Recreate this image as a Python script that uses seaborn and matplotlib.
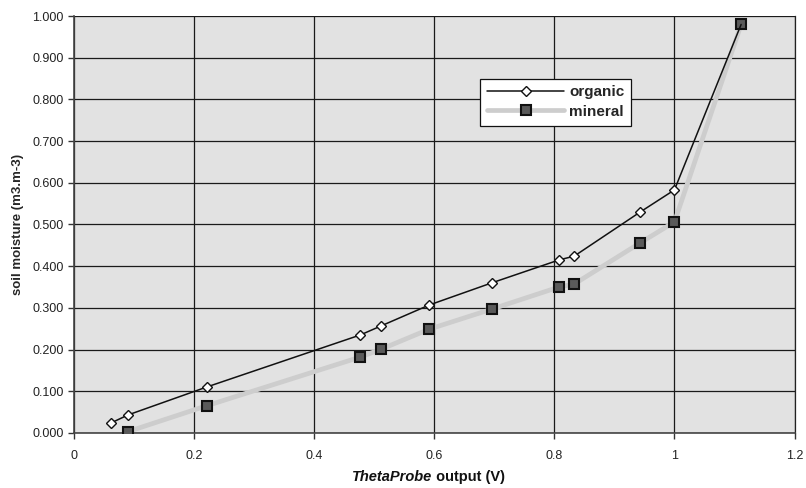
import numpy as np
import pandas as pd
import seaborn as sns
import matplotlib
matplotlib.use("Agg")
import matplotlib.pyplot as plt

# data
organic_x = [0.062, 0.090, 0.221, 0.477, 0.512, 0.592, 0.696, 0.808, 0.833, 0.943, 1.000, 1.111]
organic_y = [0.024, 0.043, 0.110, 0.235, 0.257, 0.307, 0.360, 0.415, 0.424, 0.530, 0.583, 0.980]

mineral_x = [0.090, 0.221, 0.477, 0.512, 0.592, 0.696, 0.808, 0.833, 0.943, 1.000, 1.111]
mineral_y = [0.003, 0.065, 0.182, 0.201, 0.249, 0.297, 0.350, 0.357, 0.456, 0.506, 0.980]

x_ticks = [0, 0.2, 0.4, 0.6, 0.8, 1.0, 1.2]
x_tick_labels = ["0", "0.2", "0.4", "0.6", "0.8", "1", "1.2"]
y_ticks = np.round(np.arange(0, 1.01, 0.1), 1)

sns.set_style("whitegrid")
plt.rcParams["font.family"] = ["Liberation Sans", "DejaVu Sans"]

fig = plt.figure(figsize=(8.06, 4.88), dpi=100)
ax = fig.add_axes([0.0918, 0.113, 0.894, 0.854])
ax.set_facecolor("#e2e2e2")

org_df = pd.DataFrame({"x": organic_x, "y": organic_y})
min_df = pd.DataFrame({"x": mineral_x, "y": mineral_y})

# last organic point sits under the mineral square, so no marker there
sns.lineplot(data=org_df, x="x", y="y", sort=False, ax=ax, color="#111111",
             linewidth=1.1, marker="D", markersize=5, markerfacecolor="white",
             markeredgecolor="#111111", markeredgewidth=1.0, label="organic", zorder=4,
             markevery=list(range(len(organic_x) - 1)))
sns.lineplot(data=min_df, x="x", y="y", sort=False, ax=ax, color="#cdcdcd",
             linewidth=3.4, marker="s", markersize=7, markerfacecolor="#5a5a5a",
             markeredgecolor="#111111", markeredgewidth=1.5, label="mineral", zorder=3)

ax.set_xlim(0, 1.2)
ax.set_ylim(0, 1.0)
ax.set_xticks(x_ticks)
ax.set_xticklabels(x_tick_labels)
ax.set_yticks(y_ticks)
ax.set_yticklabels([f"{v:.3f}" for v in y_ticks])
ax.tick_params(axis="both", labelsize=9, colors="#333333", length=4, width=1,
               direction="out", left=True, bottom=True, labelcolor="#222222")
ax.tick_params(axis="x", pad=8)

ax.grid(True, color="#1a1a1a", linewidth=0.9)
ax.set_axisbelow(True)
for side in ["left", "bottom"]:
    ax.spines[side].set_color("#444444")
    ax.spines[side].set_linewidth(1.2)
ax.spines["top"].set_visible(False)
ax.spines["right"].set_color("#222222")
ax.spines["right"].set_linewidth(0.9)

ax.set_xlabel("")
ax.set_ylabel("soil moisture (m3.m-3)", fontsize=9.5, fontweight="bold", labelpad=6)

# x label: italic-bold "ThetaProbe" followed by bold " output (V)"
ax.text(0.4975, -0.105, "ThetaProbe", transform=ax.transAxes, ha="right", va="center",
        fontsize=10.5, fontweight="bold", fontstyle="italic", color="#111111")
ax.text(0.4975, -0.105, " output (V)", transform=ax.transAxes, ha="left", va="center",
        fontsize=10.5, fontweight="bold", color="#111111")

leg = ax.legend(loc="upper left", bbox_to_anchor=(0.563, 0.85), frameon=True,
                fancybox=False, framealpha=1, edgecolor="#111111",
                prop={"weight": "bold", "size": 11}, handlelength=5.1,
                borderpad=0.45, labelspacing=0.35, handletextpad=0.3,
                borderaxespad=0)
leg.get_frame().set_linewidth(0.9)

fig.savefig("out.png", dpi=100)
